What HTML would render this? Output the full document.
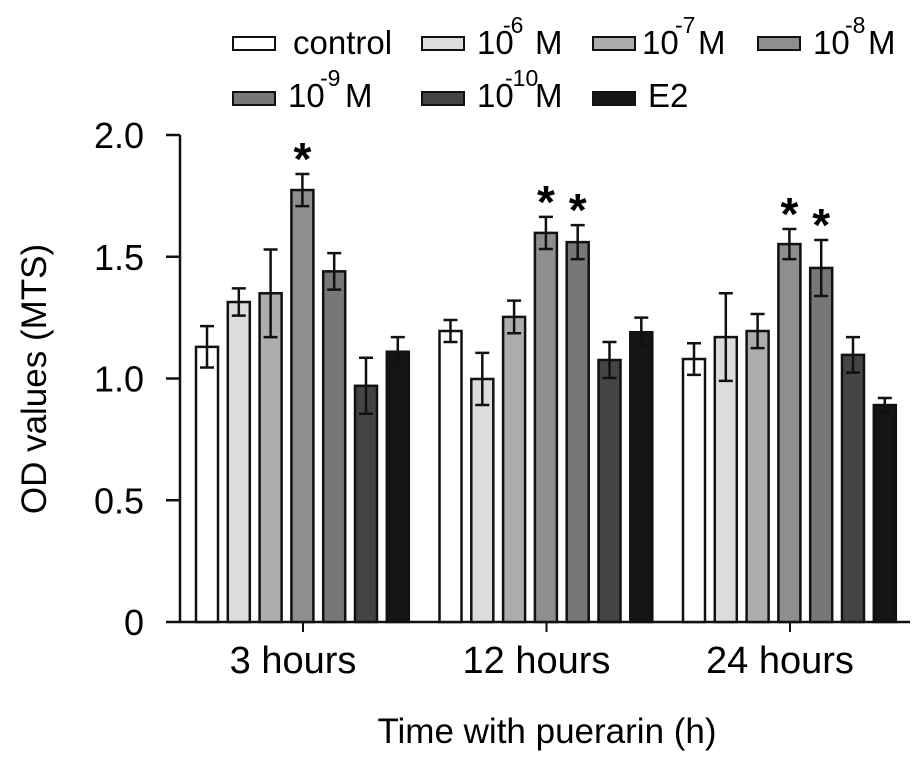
<!DOCTYPE html>
<html><head><meta charset="utf-8"><style>
body{margin:0;background:#fff}
svg{display:block;font-family:"Liberation Sans",Arial,sans-serif}
</style></head><body>
<svg id="chart" width="922" height="760" viewBox="0 0 922 760" xmlns="http://www.w3.org/2000/svg">
<g id="legend"></g>
<g id="axes"></g>
<g id="bars"></g>
<text x="547" y="743" font-size="35" text-anchor="middle">Time with puerarin (h)</text>
<text transform="translate(46,379) rotate(-90)" font-size="35" text-anchor="middle">OD values (MTS)</text>
</svg>
<script>
const categories = ["3 hours","12 hours","24 hours"];
const seriesNames = ["control","10^-6 M","10^-7 M","10^-8 M","10^-9 M","10^-10 M","E2"];
const values = [
  [1.13,1.195,1.08],
  [1.314,0.998,1.17],
  [1.35,1.253,1.195],
  [1.774,1.598,1.552],
  [1.44,1.56,1.454],
  [0.97,1.076,1.097],
  [1.11,1.19,0.891]
];
const errors = [
  [0.085,0.045,0.065],
  [0.056,0.107,0.18],
  [0.18,0.067,0.07],
  [0.066,0.066,0.062],
  [0.075,0.07,0.115],
  [0.115,0.074,0.073],
  [0.06,0.06,0.029]
];
const stars = [[3,0],[3,1],[4,1],[3,2],[4,2]];
const yTicks = [0,0.5,1.0,1.5,2.0];
const yTickLabels = ["0","0.5","1.0","1.5","2.0"];
const colors = ["#ffffff","#dcdcdc","#adadad","#8e8e8e","#777777","#444444","#151515"];

const NS="http://www.w3.org/2000/svg";
const Y0=622, PX=243.5, X0=180, XEND=910;
const y = v => Y0 - v*PX;
const xc = i => 303 + i*243.5;
const BW=22, PITCH=31.8;
const xb = (i,s) => xc(i) - 107 + s*PITCH;
function mk(tag, attrs, parent){const e=document.createElementNS(NS,tag);for(const k in attrs)e.setAttribute(k,attrs[k]);parent.appendChild(e);return e;}
const axes=document.getElementById('axes'), bars=document.getElementById('bars'), legend=document.getElementById('legend');

let yl=mk('line',{x1:X0,y1:y(2.0),x2:X0,y2:Y0+1,stroke:'#111','stroke-width':2.5},axes);


let xl=mk('line',{x1:X0-1,y1:Y0,x2:XEND,y2:Y0,stroke:'#111','stroke-width':2.5},axes);


yTicks.forEach((t,i)=>{
  let tk=mk('line',{x1:X0-14,y1:y(t),x2:X0,y2:y(t),stroke:'#111','stroke-width':2.5},axes);
  
  
  let tl=mk('text',{x:144,y:y(t)+13,'font-size':36,'text-anchor':'end'},axes);
  tl.textContent=yTickLabels[i];
  
  
});
categories.forEach((c,i)=>{
  let tk=mk('line',{x1:xc(i),y1:Y0,x2:xc(i),y2:Y0+10,stroke:'#111','stroke-width':2},axes);
  
  
  let tl=mk('text',{x:xc(i)-10,y:673,'font-size':38,'text-anchor':'middle'},axes);
  tl.textContent=c;
  
  
});
values.forEach((ser,s)=>{
  ser.forEach((v,i)=>{
    const x=xb(i,s);
    let r=mk('rect',{x:x,y:y(v),width:BW,height:Y0-y(v),fill:colors[s],stroke:'#111','stroke-width':2.5},bars);
    
    
    const e=errors[s][i], cx=x+BW/2;
    let g=mk('path',{d:`M${cx},${y(v+e)}V${y(v-e)}M${cx-7},${y(v+e)}H${cx+7}M${cx-7},${y(v-e)}H${cx+7}`,stroke:'#111','stroke-width':2.5,fill:'none'},bars);
    
    
  });
});
stars.forEach(([s,i])=>{
  const v=values[s][i]+errors[s][i];
  let t=mk('text',{x:xb(i,s)+BW/2,y:y(v)+1,'font-size':46,'text-anchor':'middle','font-weight':'bold'},bars);
  t.textContent='*';
  
  
});
// [boxX, boxY, mainX, supX, MX, baseline]
const legPos=[[233,37,293,0,0,54],[422,37,477,503,535,54],[593,37,642,675,698,54],[758,37,813,845,868,54],
              [233,92,288,320,345,107],[422,92,477,505,535,107],[593,92,648,0,0,107]];
const legMain=["control","10","10","10","10","10","E2"];
const legSup=["","-6","-7","-8","-9","-10",""];
legPos.forEach((p,s)=>{
  let g=mk('g',{},legend);
  
  
  mk('rect',{x:p[0],y:p[1],width:42,height:13,fill:colors[s],stroke:'#111','stroke-width':2},g);
  let t=mk('text',{x:p[2],y:p[5],'font-size':33},g);
  t.textContent=legMain[s];
  if(legSup[s]){
    let ts=mk('text',{x:p[3],y:p[5]-21,'font-size':23},g);ts.textContent=legSup[s];
    let tm=mk('text',{x:p[4],y:p[5],'font-size':33},g);tm.textContent='M';
  }
});
</script>
</body></html>
